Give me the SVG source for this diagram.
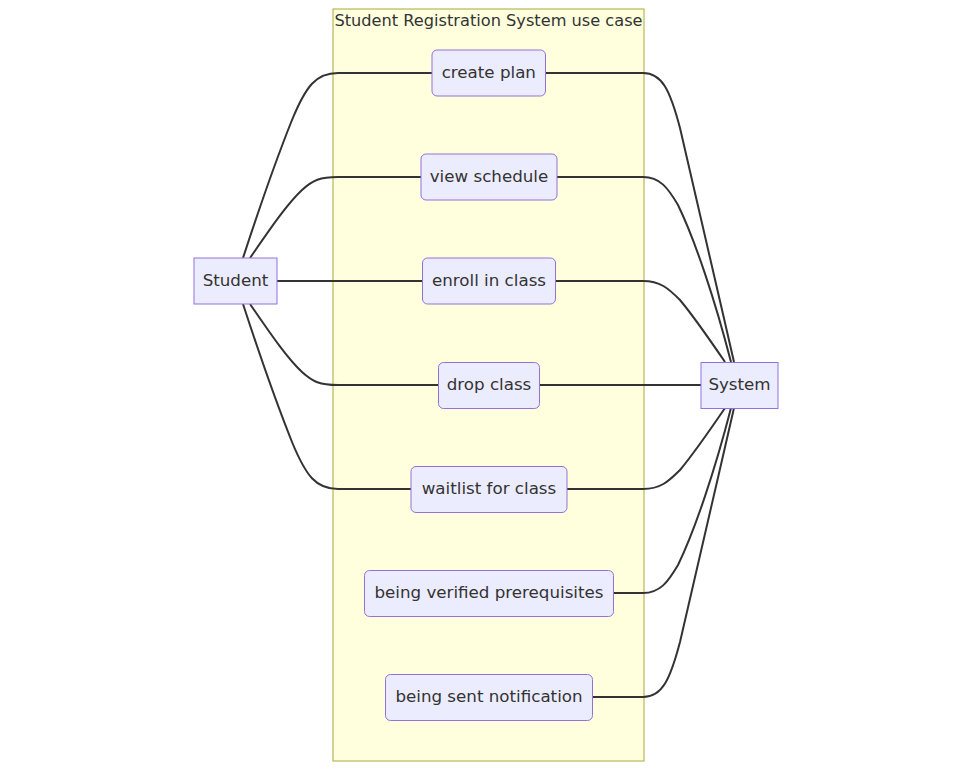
<svg xmlns="http://www.w3.org/2000/svg" width="972" height="771" viewBox="0 0 972 771">
<style>
.cluster{fill:#ffffde;stroke:#aaaa33;stroke-width:1}
.node rect{fill:#ECECFF;stroke:#9370DB;stroke-width:1}
.lbl{font-family:"DejaVu Sans","Liberation Sans",sans-serif;font-size:16.7px;fill:#333;text-anchor:middle;dominant-baseline:central}
.title{font-size:16.2px}
.edge{fill:none;stroke:#333;stroke-width:2}
</style>
<rect width="972" height="771" fill="#ffffff"/>
<g id="cluster-system">
<rect class="cluster" x="333" y="9" width="311" height="752"/>
<text class="lbl title" x="488.5" y="20">Student Registration System use case</text>
</g>
<g id="edges">
<path class="edge" d="M243,258 C258,212 272,170 292,120 C306,86 316,73 338,73 L432,73"/>
<path class="edge" d="M250,258 C268,232 286,205 302,190 C313,180 320,177 338,177 L421,177"/>
<path class="edge" d="M277,281 L422,281"/>
<path class="edge" d="M250,304 C268,330 286,357 302,372 C313,382 320,385 338,385 L438,385"/>
<path class="edge" d="M243,304 C258,350 272,392 292,442 C306,476 316,489 338,489 L411,489"/>
<path class="edge" d="M545,73 L643,73 C662,73 670,90 680,128 C695,190 715,280 734,362"/>
<path class="edge" d="M557,177 L643,177 C660,177 668,188 678,205 C695,240 715,300 731,362"/>
<path class="edge" d="M555,281 L643,281 C660,281 668,288 680,300 C695,318 710,340 725,362"/>
<path class="edge" d="M539,385 L701,385"/>
<path class="edge" d="M567,489 L643,489 C660,489 668,482 680,470 C695,452 710,430 725,408"/>
<path class="edge" d="M613,593 L643,593 C660,593 668,582 678,565 C695,530 715,470 731,408"/>
<path class="edge" d="M592,697 L643,697 C662,697 670,680 680,642 C695,580 715,490 734,408"/>
</g>
<g id="Student" class="node">
<rect x="194" y="258" width="83" height="46"/>
<text class="lbl" x="235.5" y="279.5">Student</text>
</g>
<g id="System" class="node">
<rect x="701" y="362.5" width="77" height="46"/>
<text class="lbl" x="739.5" y="384">System</text>
</g>
<g id="create-plan" class="node">
<rect x="432" y="50" width="113.5" height="46" rx="5"/>
<text class="lbl" x="488.8" y="71.5">create plan</text>
</g>
<g id="view-schedule" class="node">
<rect x="421" y="154" width="136" height="46" rx="5"/>
<text class="lbl" x="489" y="175.5">view schedule</text>
</g>
<g id="enroll-in-class" class="node">
<rect x="422.5" y="258" width="133" height="46" rx="5"/>
<text class="lbl" x="489" y="279.5">enroll in class</text>
</g>
<g id="drop-class" class="node">
<rect x="438.5" y="362.5" width="101" height="46" rx="5"/>
<text class="lbl" x="489" y="384">drop class</text>
</g>
<g id="waitlist-for-class" class="node">
<rect x="411" y="466.5" width="156" height="46" rx="5"/>
<text class="lbl" x="489" y="488">waitlist for class</text>
</g>
<g id="being-verified-prerequisites" class="node">
<rect x="364.5" y="570.5" width="249" height="46" rx="5"/>
<text class="lbl" x="489" y="592">being verified prerequisites</text>
</g>
<g id="being-sent-notification" class="node">
<rect x="385.5" y="674.5" width="207" height="46" rx="5"/>
<text class="lbl" x="489" y="696">being sent notification</text>
</g>
</svg>
